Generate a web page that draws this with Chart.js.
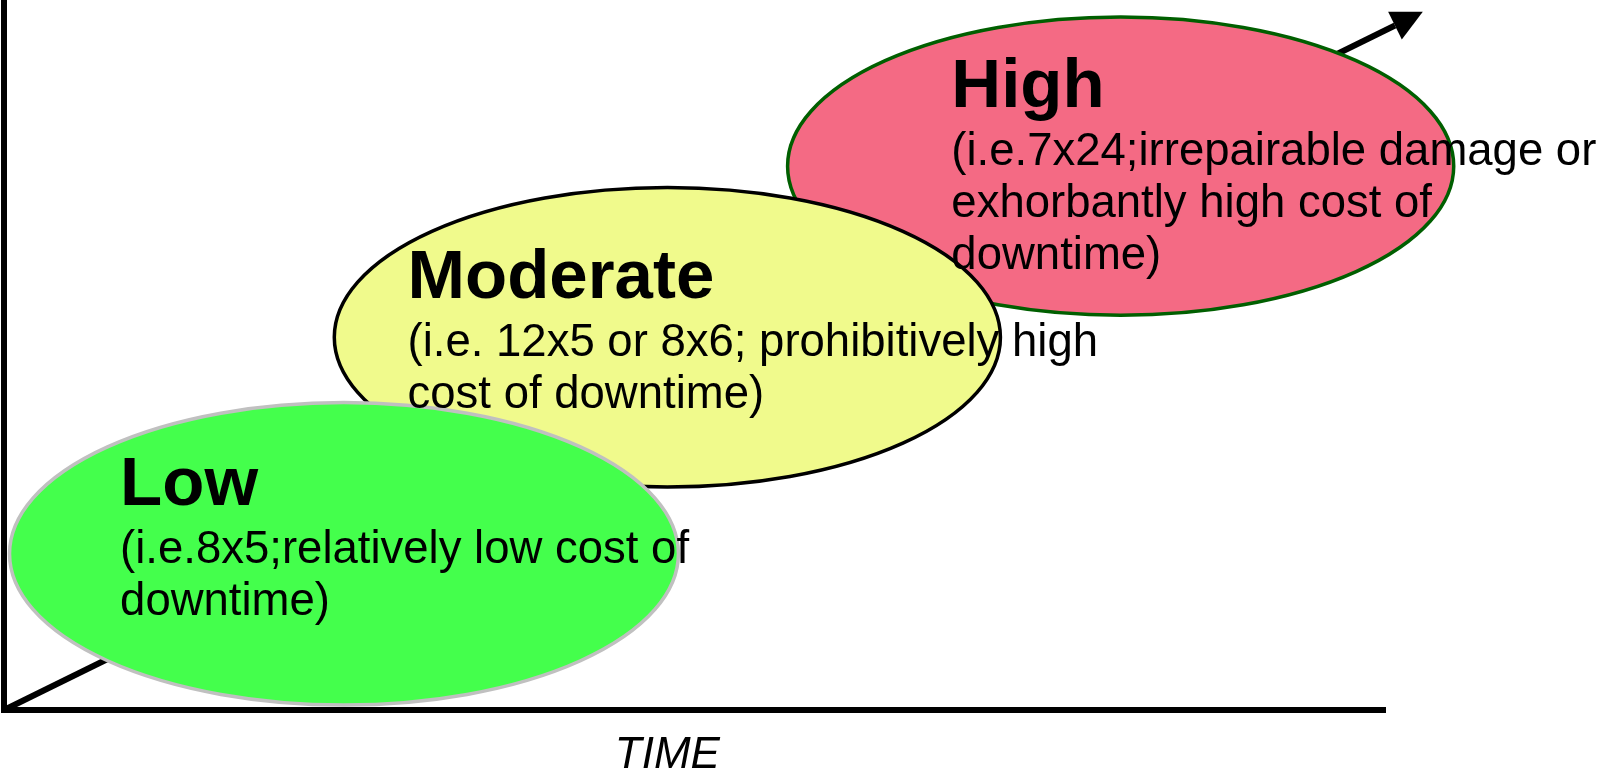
<!DOCTYPE html>
<html>
<head>
<meta charset="utf-8">
<title>Availability levels over time</title>
<script src="https://cdn.jsdelivr.net/npm/chart.js@4.4.0/dist/chart.umd.min.js"></script>
<style>
  html, body { margin: 0; padding: 0; background: #fff; }
  #wrap { width: 1611px; height: 774px; }
</style>
</head>
<body>
<div id="wrap"><canvas id="levels"></canvas></div>
<script>
// time runs 0-100 along x, availability 0-100 up y
const levels = ['Low', 'Moderate', 'High'];
const details = [
  ['(i.e.8x5;relatively low cost of', 'downtime)'],
  ['(i.e. 12x5 or 8x6; prohibitively high', 'cost of downtime)'],
  ['(i.e.7x24;irrepairable damage or', 'exhorbantly high cost of', 'downtime)']
];
const centerX = [24.6, 48.0, 80.8];
const centerY = [22.0, 52.5, 76.6];
const spreadX = [24.2, 24.1, 24.1];
const spreadY = [21.3, 21.1, 21.0];
const labelX = [8.4, 29.2, 68.55];
const labelY = [28.9, 58.0, 84.9];
const trendX = [0, 100.65];
const trendY = [0, 96.4];
const axisLabel = 'TIME';
const axisLabelX = 48.0;
const axisLabelY = -8.2;

const ovalFill = ['#44FF4C', '#F0FA8C', '#F46A84'];
const ovalEdge = ['#C0C0C0', '#000000', '#005F00'];

const ovals = {
  id: 'ovals',
  afterDatasetsDraw(chart) {
    const { ctx, scales: { x, y } } = chart;
    ctx.save();

    // High is at the back, Low in front
    for (let i = levels.length - 1; i >= 0; i--) {
      const cx = x.getPixelForValue(centerX[i]);
      const cy = y.getPixelForValue(centerY[i]);
      const rx = Math.abs(x.getPixelForValue(centerX[i] + spreadX[i]) - cx);
      const ry = Math.abs(y.getPixelForValue(centerY[i] + spreadY[i]) - cy);
      ctx.beginPath();
      ctx.ellipse(cx, cy, rx, ry, 0, 0, Math.PI * 2);
      ctx.fillStyle = ovalFill[i];
      ctx.fill();
      ctx.lineWidth = 3.5;
      ctx.strokeStyle = ovalEdge[i];
      ctx.stroke();
    }

    // text sits over all the ovals
    ctx.fillStyle = '#000';
    ctx.textAlign = 'left';
    ctx.textBaseline = 'alphabetic';
    levels.forEach((name, i) => {
      const lx = x.getPixelForValue(labelX[i]);
      const ly = y.getPixelForValue(labelY[i]);
      ctx.font = 'bold 69px "Liberation Sans", Arial, sans-serif';
      ctx.fillText(name, lx, ly);
      ctx.font = '45.5px "Liberation Sans", Arial, sans-serif';
      details[i].forEach((line, j) => ctx.fillText(line, lx, ly + 58 + j * 52));
    });

    // arrow head at the end of the trend line
    const n = trendX.length - 1;
    const x0 = x.getPixelForValue(trendX[n - 1]), y0 = y.getPixelForValue(trendY[n - 1]);
    const x1 = x.getPixelForValue(trendX[n]), y1 = y.getPixelForValue(trendY[n]);
    const len = Math.hypot(x1 - x0, y1 - y0);
    const dx = (x1 - x0) / len, dy = (y1 - y0) / len;
    ctx.beginPath();
    ctx.moveTo(x1 + dx * 31, y1 + dy * 31);
    ctx.lineTo(x1 - dy * 15.5, y1 + dx * 15.5);
    ctx.lineTo(x1 + dy * 15.5, y1 - dx * 15.5);
    ctx.closePath();
    ctx.fill();

    ctx.font = 'italic 44px "Liberation Sans", Arial, sans-serif';
    ctx.textAlign = 'center';
    ctx.fillText(axisLabel, x.getPixelForValue(axisLabelX), y.getPixelForValue(axisLabelY));
    ctx.restore();
  }
};

new Chart(document.getElementById('levels'), {
  type: 'line',
  data: {
    datasets: [
      {
        label: 'trend',
        data: trendX.map((v, i) => ({ x: v, y: trendY[i] })),
        borderColor: '#000',
        borderWidth: 6,
        pointRadius: 0,
        clip: false
      },
      {
        label: 'y axis',
        data: [{ x: 0, y: 0 }, { x: 0, y: 100 }],
        borderColor: '#000',
        borderWidth: 6,
        borderCapStyle: 'square',
        pointRadius: 0,
        clip: false
      },
      {
        label: 'x axis',
        data: [{ x: 0, y: 0 }, { x: 100, y: 0 }],
        borderColor: '#000',
        borderWidth: 6,
        pointRadius: 0,
        clip: false
      }
    ]
  },
  options: {
    responsive: true,
    maintainAspectRatio: false,
    animation: false,
    layout: {
      padding: { left: 4, right: 225, top: 0, bottom: 64 }
    },
    scales: {
      x: { type: 'linear', min: 0, max: 100, display: false },
      y: { type: 'linear', min: 0, max: 100, display: false }
    },
    plugins: {
      legend: { display: false },
      tooltip: { enabled: false }
    }
  },
  plugins: [ovals]
});
</script>
</body>
</html>
